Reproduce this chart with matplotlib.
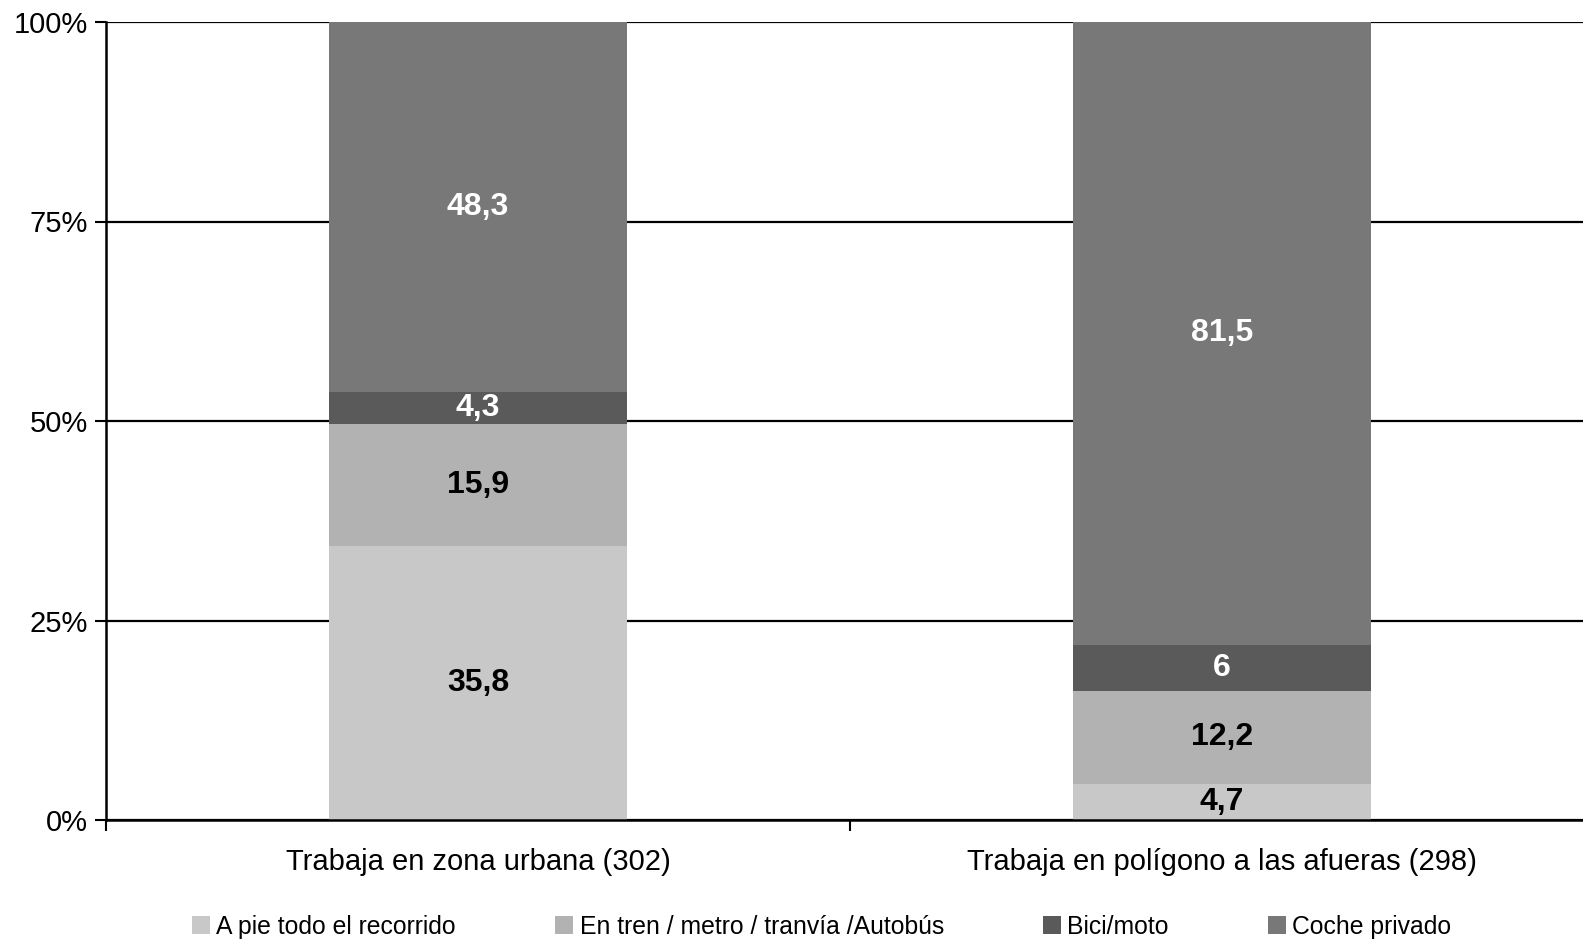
import matplotlib
matplotlib.use('Agg')
import matplotlib.pyplot as plt
import numpy as np
from matplotlib.ticker import FuncFormatter

plt.rcParams['font.family'] = ['Liberation Sans', 'DejaVu Sans']

categories = ['Trabaja en zona urbana (302)', 'Trabaja en polígono a las afueras (298)']
series = ['A pie todo el recorrido', 'En tren / metro / tranvía /Autobús', 'Bici/moto', 'Coche privado']
values = {
    'A pie todo el recorrido': [35.8, 4.7],
    'En tren / metro / tranvía /Autobús': [15.9, 12.2],
    'Bici/moto': [4.3, 6.0],
    'Coche privado': [48.3, 81.5],
}
labels = {
    'A pie todo el recorrido': ['35,8', '4,7'],
    'En tren / metro / tranvía /Autobús': ['15,9', '12,2'],
    'Bici/moto': ['4,3', '6'],
    'Coche privado': ['48,3', '81,5'],
}
colors = ['#c8c8c8', '#b2b2b2', '#5a5a5a', '#787878']
text_colors = ['black', 'black', 'white', 'white']

fig = plt.figure(figsize=(15.83, 9.44), dpi=100)
ax = fig.add_axes([106 / 1583, 1 - 820 / 944, 1488 / 1583, 798 / 944])

x = np.arange(len(categories)) + 0.5
totals = np.sum([values[s] for s in series], axis=0)
bottom = np.zeros(len(categories))
for s, c, tc in zip(series, colors, text_colors):
    pct = np.array(values[s]) / totals * 100
    ax.bar(x, pct, width=0.4, bottom=bottom, color=c, label=s, zorder=3)
    for xi, b, p, lab in zip(x, bottom, pct, labels[s]):
        ax.text(xi, b + p / 2, lab, ha='center', va='center', color=tc,
                fontsize=23, fontweight='bold', zorder=4)
    bottom += pct

ax.set_xlim(0, 2)
ax.set_ylim(0, 100)
ax.set_yticks([0, 25, 50, 75, 100])
ax.yaxis.set_major_formatter(FuncFormatter(lambda v, p: '%d%%' % v))
ax.set_xticks([0, 1, 2])
ax.set_xticklabels([])
ax.set_xticks(x, minor=True)
ax.set_xticklabels(categories, minor=True)
ax.tick_params(axis='x', which='minor', length=0, labelsize=21, pad=20)
ax.tick_params(axis='x', which='major', length=8, width=1.5)
ax.tick_params(axis='y', length=8, width=1.5, labelsize=21, pad=5)
ax.grid(axis='y', color='black', linewidth=1.6, zorder=1)
ax.set_axisbelow(True)
for sp in ['top', 'right']:
    ax.spines[sp].set_visible(False)
for sp in ['left', 'bottom']:
    ax.spines[sp].set_linewidth(1.8)
    ax.spines[sp].set_zorder(5)

fig.legend(loc='center', bbox_to_anchor=(0.519, 1 - 927 / 944), ncol=4, frameon=False,
           fontsize=17.8, handlelength=0.75, handleheight=0.75, handletextpad=0.25,
           columnspacing=4.0)

fig.savefig('out.png', dpi=100)
